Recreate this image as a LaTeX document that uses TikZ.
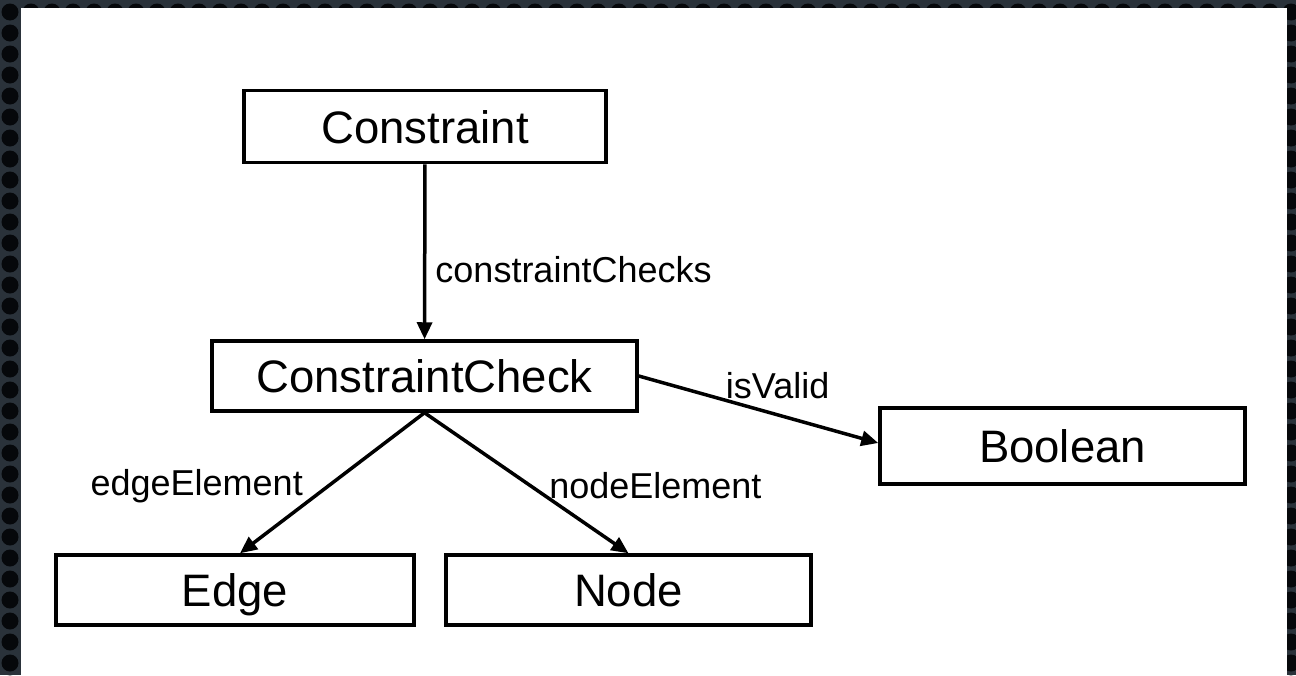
\documentclass[tikz,border=0pt]{standalone}
\usepackage{fontspec}
\setmainfont{Liberation Sans}
\usepackage{tikz}
\usetikzlibrary{arrows.meta}
\usetikzlibrary{calc}

\definecolor{slate}{HTML}{2A323A}
\definecolor{pit}{HTML}{06080B}

\tikzset{
	classbox/.style={draw, line width=3.5pt, minimum height=72pt, inner sep=0pt, text height=33pt, text depth=0pt, font=\fontsize{45.5}{54}\selectfont},
	role/.style={font=\fontsize{36}{43}\selectfont, inner sep=0pt}
}

\begin{document}
\begin{tikzpicture}[x=1pt, y=-1pt]
	\useasboundingbox (0,0) rectangle (1296,675);
	% backdrop
	\begin{scope}
		\clip (0,0) rectangle (1296,675);
		\fill[slate] (0,0) rectangle (1296,675);
		\foreach \i in {0,...,62}
			\foreach \j in {0,...,32}
				\fill[pit] (\i*21+10, \j*21+12) circle (8.5);
	\end{scope}
	\fill[white] (21,8) rectangle (1287,690);

	% classes
	\node[classbox, minimum width=362pt] (constraint) at (425,126.5) {Constraint};
	\node[classbox, minimum width=425pt, minimum height=70pt] (check) at (424.5,376) {ConstraintCheck};
	\node[classbox, minimum width=365pt, minimum height=76pt] (boolean) at (1062.5,446) {Boolean};
	\node[classbox, minimum width=358pt, minimum height=70pt] (edge) at (235,590) {Edge};
	\node[classbox, minimum width=365pt, minimum height=70pt] (node) at (628.5,590) {Node};

	% associations
	\path[-{Triangle[length=17pt, width=15pt]}, line width=3.5pt]
	(constraint) edge node [role, right=9pt, pos=0.6] {constraintChecks} (check)
	(check.east) edge node [role, above=14pt, pos=0.58] {isValid} (boolean.west |- 0,443)
	(check.south) edge node [role, left=24pt, pos=0.52] {edgeElement} (edge.north -| 240,0)
	(check.south) edge node [role, right=17pt, pos=0.52] {nodeElement} (node.north);
\end{tikzpicture}
\end{document}
